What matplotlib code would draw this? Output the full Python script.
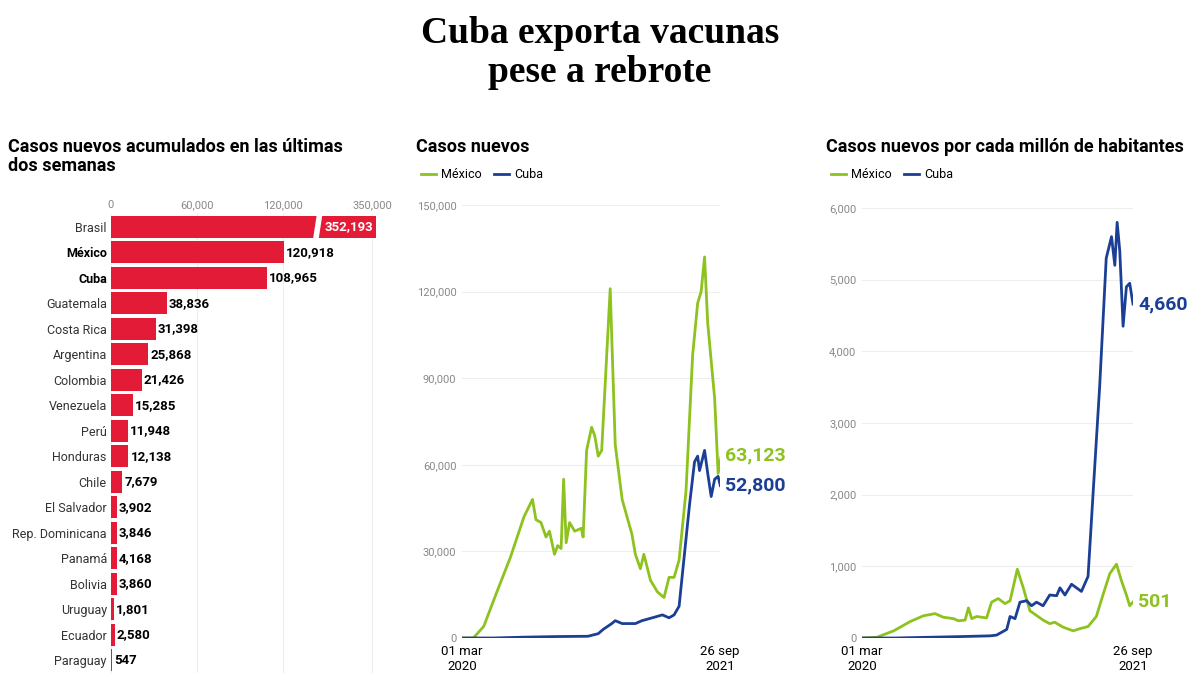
import matplotlib
matplotlib.use('Agg')
import matplotlib.pyplot as plt
from matplotlib.lines import Line2D

plt.rcParams['font.family'] = 'Roboto'

RED = '#E31B37'
GREEN = '#8DC21F'
BLUE = '#1B3F94'
GRAY = '#888888'

# Bar chart data
countries = ['Brasil', 'México', 'Cuba', 'Guatemala', 'Costa Rica', 'Argentina', 'Colombia',
             'Venezuela', 'Perú', 'Honduras', 'Chile', 'El Salvador', 'Rep. Dominicana',
             'Panamá', 'Bolivia', 'Uruguay', 'Ecuador', 'Paraguay']
cases_2w = [352193, 120918, 108965, 38836, 31398, 25868, 21426, 15285, 11948, 12138,
            7679, 3902, 3846, 4168, 3860, 1801, 2580, 547]
bar_ticks = [0, 60000, 120000, 182500]
bar_tick_labels = ['0', '60,000', '120,000', '350,000']
AXIS_BREAK = 185000  # displayed end of the broken axis

# Casos nuevos (weeks since 01 mar 2020)
mx_weeks = [0.4, 3.6, 6.9, 11.1, 15.4, 19.7, 22.4, 23.5, 25.1, 26.7, 27.8, 29.4, 30.4, 31.5,
            32.3, 33.1, 34.2, 35.8, 37.9, 38.5, 39.6, 41.2, 42.2, 43.3, 44.4, 47.1, 48.7,
            50.9, 54.0, 55.1, 56.7, 57.8, 59.9, 62.1, 64.2, 65.8, 67.4, 69.0, 71.2, 73.3,
            74.9, 76.0, 77.1, 78.1, 80.3, 81.4, 82.4]
mx_cases = [0, 0, 4000, 16000, 28000, 42000, 48000, 41000, 40000, 35000, 37000, 29000, 32000,
            31000, 55000, 33000, 40000, 37000, 38000, 35000, 65000, 73000, 70000, 63000, 65000,
            121000, 67000, 48000, 36000, 29000, 24000, 29000, 20000, 16000, 14000, 21000, 21000,
            27000, 51000, 98000, 116000, 120000, 132000, 109000, 83000, 57000, 63123]
cu_weeks = [0.4, 10.0, 20.0, 30.0, 40.0, 43.3, 44.9, 47.6, 48.7, 50.9, 55.1, 57.2, 60.5, 63.7,
            65.8, 67.4, 69.0, 70.6, 72.3, 73.9, 74.9, 75.5, 77.1, 78.1, 79.2, 80.3, 81.4, 82.1]
cu_cases = [0, 0, 300, 500, 600, 1500, 3000, 5000, 6000, 5000, 5000, 6000, 7000, 8000, 7000,
            8000, 11000, 28000, 46000, 61000, 63000, 58000, 65000, 57000, 49000, 55000, 56000,
            52800]

# Casos por millón
mx_pm_weeks = [0, 4.5, 9.6, 14.6, 18.6, 22.1, 24.6, 27.7, 29.2, 31.2, 32.2, 33.2, 34.7, 37.7,
               39.2, 41.2, 43.3, 44.8, 47.0, 48.8, 50.8, 54.8, 56.8, 58.3, 60.9, 63.9, 65.9,
               68.4, 70.9, 72.9, 75.0, 77.0, 78.5, 80.0, 81.0, 82.0]
mx_pm = [0, 10, 100, 230, 310, 340, 290, 270, 240, 250, 420, 270, 300, 280, 500, 550, 480,
         520, 960, 700, 380, 250, 200, 220, 150, 100, 130, 160, 300, 600, 900, 1030, 800, 600,
         450, 501]
cu_pm_weeks = [0, 10.0, 20.0, 30.0, 38.7, 40.7, 43.8, 44.8, 46.3, 47.8, 49.8, 51.3, 52.8,
               54.8, 56.8, 58.9, 59.9, 61.4, 63.4, 64.9, 66.4, 68.4, 69.9, 71.9, 73.9, 75.5,
               76.5, 77.2, 78.0, 79.0, 80.0, 81.0, 82.0]
cu_pm = [0, 0, 10, 20, 30, 40, 120, 300, 270, 500, 520, 450, 500, 450, 600, 590, 700, 600,
         750, 700, 650, 860, 2000, 3500, 5300, 5600, 5200, 5800, 5400, 4350, 4900, 4950, 4660]

W, H = 1200, 675
fig = plt.figure(figsize=(12, 6.75), dpi=100)


def rect(x0, y0, x1, y1):
    return [x0 / W, 1 - y1 / H, (x1 - x0) / W, (y1 - y0) / H]


fig.text(0.5, 1 - 16 / H, 'Cuba exporta vacunas\npese a rebrote', ha='center', va='top',
         fontsize=27, fontweight='bold', family='Liberation Serif', linespacing=1.15)

# --- bar chart ---
ax1 = fig.add_axes(rect(111, 214, 400, 673))
shown = [min(v, AXIS_BREAK) for v in cases_2w]
ax1.barh(range(len(countries)), shown, height=0.85, color=RED, zorder=2)
ax1.set_ylim(len(countries) - 0.5, -0.5)
ax1.set_xlim(0, 202000)
ax1.set_yticks(range(len(countries)))
ax1.set_yticklabels(countries, fontsize=9, color='#333333')
for lbl, c in zip(ax1.get_yticklabels(), countries):
    if c in ('México', 'Cuba'):
        lbl.set_fontweight('bold')
        lbl.set_color('black')
ax1.xaxis.tick_top()
ax1.set_xticks(bar_ticks)
ax1.set_xticklabels(bar_tick_labels, fontsize=8, color=GRAY)
ax1.tick_params(length=0, pad=3)
ax1.grid(axis='x', color='#eeeeee', lw=0.8, zorder=0)
for s in ax1.spines.values():
    s.set_visible(False)
for i, (v, sv) in enumerate(zip(cases_2w, shown)):
    if v > AXIS_BREAK:
        ax1.text(sv - 1500, i, f'{v:,}', ha='right', va='center', color='white',
                 fontsize=9.5, fontweight='bold', zorder=4)
        ax1.plot([143000, 146000], [i + 0.55, i - 0.55], color='white', lw=4, zorder=3)
    else:
        ax1.text(sv + 1500, i, f'{v:,}', ha='left', va='center', color='black',
                 fontsize=9.5, fontweight='bold')

fig.text(8 / W, 1 - 138 / H, 'Casos nuevos acumulados en las últimas\ndos semanas', ha='left',
         va='top', fontsize=13, fontweight='bold', linespacing=1.1)


def line_panel(box, xs1, ys1, xs2, ys2, ymax, step, end1, end2, title, tx):
    ax = fig.add_axes(box)
    ax.plot(xs1, ys1, color=GREEN, lw=2, zorder=3)
    ax.plot(xs2, ys2, color=BLUE, lw=2, zorder=3)
    ax.set_xlim(0, 82)
    ax.set_ylim(0, ymax)
    ax.set_yticks(range(0, ymax + 1, step))
    ax.set_yticklabels([f'{v:,}' for v in range(0, ymax + 1, step)], fontsize=8, color=GRAY)
    ax.set_xticks([0, 82])
    ax.set_xticklabels(['01 mar\n2020', '26 sep\n2021'], fontsize=9.5)
    ax.tick_params(axis='y', length=0, pad=4)
    ax.tick_params(axis='x', length=0, pad=5)
    ax.grid(axis='y', color='#eeeeee', lw=0.8)
    for s in ax.spines.values():
        s.set_visible(False)
    ax.text(83.5, ys1[-1], end1, color=GREEN, fontsize=14, fontweight='bold', va='center',
            clip_on=False)
    ax.text(83.5, ys2[-1], end2, color=BLUE, fontsize=14, fontweight='bold', va='center',
            clip_on=False)
    fig.text(tx / W, 1 - 138 / H, title, ha='left', va='top', fontsize=13, fontweight='bold')
    handles = [Line2D([], [], color=GREEN, lw=2), Line2D([], [], color=BLUE, lw=2)]
    fig.legend(handles, ['México', 'Cuba'], loc='center left',
               bbox_to_anchor=((tx - 6) / W, 1 - 175 / H), ncol=2, frameon=False,
               fontsize=9, handlelength=1.2, handletextpad=0.4, columnspacing=1.0)
    return ax


line_panel(rect(462, 205, 720, 638), mx_weeks, mx_cases, cu_weeks, cu_cases, 150000, 30000,
           '63,123', '52,800', 'Casos nuevos', 416)
line_panel(rect(862, 208, 1133, 638), mx_pm_weeks, mx_pm, cu_pm_weeks, cu_pm, 6000,
           1000, '501', '4,660', 'Casos nuevos por cada millón de habitantes', 826)

fig.savefig('out.png', dpi=100, facecolor='white')
